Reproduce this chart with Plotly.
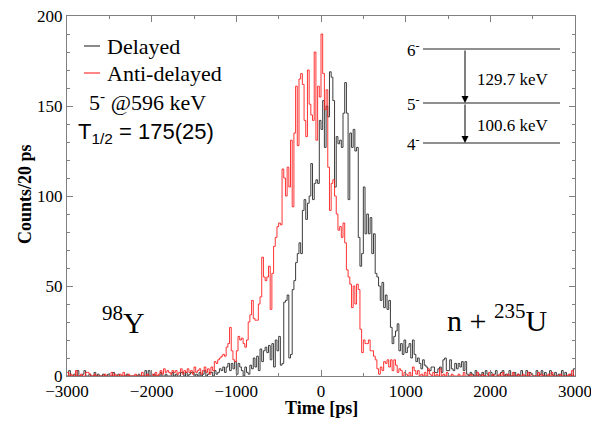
import numpy as np
import plotly.graph_objects as go

# time histogram, 20 ps bins from -3000 to 3000 ps
bin_start = -3000
bin_width = 20

delayed = [
    0, 3, 0, 0, 1, 0, 3, 0, 0, 1,
    3, 0, 0, 1, 0, 0, 2, 0, 1, 0,
    0, 1, 0, 0, 1, 0, 0, 2, 0, 0,
    1, 0, 0, 0, 0, 1, 0, 0, 0, 0,
    0, 0, 1, 0, 0, 0, 3, 0, 3, 0,
    0, 1, 0, 0, 0, 2, 0, 0, 1, 0,
    0, 0, 2, 0, 1, 0, 0, 2, 2, 0,
    2, 0, 1, 2, 2, 0, 1, 0, 2, 0,
    1, 3, 0, 1, 2, 2, 0, 3, 1, 2,
    4, 3, 5, 2, 5, 7, 3, 7, 4, 8,
    1, 7, 5, 3, 0, 5, 2, 1, 6, 4,
    10, 5, 11, 3, 15, 8, 14, 16, 13, 17,
    9, 18, 5, 20, 14, 22, 6, 7, 41, 42,
    45, 10, 12, 48, 53, 63, 68, 74, 68, 92,
    98, 87, 96, 100, 118, 98, 107, 109, 107, 142,
    137, 153, 127, 150, 144, 169, 166, 153, 105, 133,
    129, 131, 127, 146, 163, 146, 98, 135, 127, 137,
    125, 127, 77, 61, 68, 105, 79, 90, 79, 88,
    68, 79, 57, 55, 50, 42, 52, 38, 45, 37,
    42, 27, 18, 22, 25, 29, 14, 18, 12, 20,
    13, 16, 18, 10, 20, 12, 8, 10, 7, 4,
    9, 6, 5, 3, 3, 5, 5, 2, 2, 4,
    5, 2, 9, 10, 3, 3, 9, 4, 3, 7,
    4, 7, 5, 8, 3, 8, 1, 0, 2, 1,
    0, 3, 0, 1, 0, 2, 0, 3, 1, 0,
    2, 0, 1, 3, 0, 0, 2, 3, 0, 1,
    0, 3, 0, 0, 2, 0, 1, 0, 3, 0,
    0, 3, 0, 2, 1, 0, 0, 3, 0, 1,
    3, 0, 2, 0, 0, 3, 1, 0, 2, 0,
    1, 0, 3, 0, 2, 0, 0, 1, 0, 4,
]

anti_delayed = [
    2, 0, 1, 0, 0, 3, 0, 0, 1, 0,
    0, 2, 2, 1, 0, 0, 1, 0, 0, 0,
    0, 0, 1, 0, 0, 0, 2, 0, 1, 0,
    0, 1, 0, 2, 0, 0, 1, 0, 0, 0,
    1, 0, 0, 0, 2, 0, 0, 1, 0, 0,
    1, 0, 2, 0, 1, 3, 1, 4, 2, 3,
    2, 1, 3, 2, 3, 1, 2, 4, 1, 3,
    2, 4, 2, 3, 1, 5, 2, 3, 4, 1,
    3, 5, 2, 4, 1, 5, 3, 8, 7, 9,
    10, 11, 12, 11, 16, 18, 27, 14, 9, 8,
    14, 22, 20, 21, 18, 16, 20, 30, 34, 42,
    32, 31, 31, 40, 44, 66, 55, 53, 55, 61,
    37, 57, 72, 77, 83, 85, 84, 115, 110, 100,
    116, 105, 131, 94, 135, 161, 128, 165, 168, 162,
    142, 133, 170, 151, 145, 142, 180, 131, 161, 155,
    190, 168, 148, 159, 116, 92, 107, 109, 100, 90,
    81, 83, 77, 85, 74, 59, 55, 51, 38, 50,
    40, 51, 48, 26, 13, 20, 18, 18, 20, 14,
    14, 11, 9, 4, 1, 5, 3, 8, 7, 9,
    5, 9, 3, 9, 6, 2, 4, 3, 0, 2,
    1, 0, 2, 0, 5, 3, 1, 3, 0, 1,
    0, 2, 0, 4, 1, 0, 2, 0, 1, 0,
    4, 0, 1, 0, 2, 0, 0, 1, 0, 0,
    0, 1, 0, 0, 2, 0, 0, 0, 1, 0,
    0, 0, 2, 0, 0, 1, 0, 0, 0, 2,
    0, 1, 0, 0, 0, 1, 0, 2, 0, 0,
    1, 0, 0, 2, 0, 0, 1, 0, 0, 1,
    0, 0, 2, 0, 1, 0, 0, 0, 2, 0,
    1, 0, 0, 0, 1, 0, 2, 0, 0, 0,
    0, 1, 0, 0, 0, 0, 1, 0, 3, 0,
]

x_ticks = [-3000, -2000, -1000, 0, 1000, 2000, 3000]
y_ticks = [0, 50, 100, 150, 200]

# level scheme of 98Y
levels = ["6<sup>-</sup>", "5<sup>-</sup>", "4<sup>-</sup>"]
gammas = ["129.7 keV", "100.6 keV"]

edges = bin_start + bin_width * np.arange(len(delayed) + 1)

serif = "Liberation Serif"
sans = "Liberation Sans"
black_col = "#3c3c3c"
red_col = "rgba(255,30,30,0.9)"

fig = go.Figure()
fig.add_trace(go.Scatter(x=edges, y=delayed + [delayed[-1]], mode="lines",
                         line=dict(shape="hv", color=black_col, width=1),
                         name="Delayed"))
fig.add_trace(go.Scatter(x=edges, y=anti_delayed + [anti_delayed[-1]], mode="lines",
                         line=dict(shape="hv", color=red_col, width=1),
                         name="Anti-delayed"))

# paper coords helpers (plot box 508 x 360 px, page pixels of the reference)
def px(x):
    return (x - 67) / 508

def py(y):
    return (376 - y) / 360

def text(x, y, s, size, family=serif, anchor="left"):
    fig.add_annotation(xref="paper", yref="paper", x=px(x), y=py(y),
                       text=s, showarrow=False, xanchor=anchor, yanchor="middle",
                       font=dict(family=family, size=size, color="black"))

# hand-drawn legend, as in the original figure
for name, col, yy in [("Delayed", black_col, 46), ("Anti-delayed", red_col, 73)]:
    fig.add_shape(type="line", xref="paper", yref="paper",
                  x0=px(84), x1=px(100), y0=py(yy), y1=py(yy),
                  line=dict(color=col, width=1.2))
    text(105, yy, name, 22)

level_y = [49, 103, 143]
for lab, yy in zip(levels, level_y):
    fig.add_shape(type="line", xref="paper", yref="paper",
                  x0=px(423), x1=px(560), y0=py(yy), y1=py(yy),
                  line=dict(color="#6a6a6a", width=1.5))
    text(422, yy, lab, 17, anchor="right")

# transition arrows (data coords so the tail is in the same units)
def tx(x):
    return (x - 67) / 508 * 6000 - 3000

def cy(y):
    return (376 - y) / 1.8

for (y0, y1) in [(49, 103), (103, 143)]:
    fig.add_annotation(x=tx(465), y=cy(y1), ax=tx(465), ay=cy(y0),
                       xref="x", yref="y", axref="x", ayref="y",
                       text="", showarrow=True, arrowhead=2, arrowsize=1.4,
                       arrowwidth=1, arrowcolor="black")

for lab, yy in zip(gammas, [79, 125]):
    text(513, yy, lab, 17, anchor="center")

text(87, 101, "5<sup>-</sup> @596 keV", 22)
text(76, 133, "T<sub>1/2</sub> = 175(25)", 22, family=sans)
text(100, 320, "<sup>98</sup>Y", 30)
text(445, 318, "n + <sup>235</sup>U", 30)

# axis titles
fig.add_annotation(xref="paper", yref="paper", x=px(321), y=py(408),
                   text="<b>Time [ps]</b>", showarrow=False,
                   xanchor="center", yanchor="middle",
                   font=dict(family=serif, size=18, color="black"))
fig.add_annotation(xref="paper", yref="paper", x=px(25), y=py(194),
                   text="<b>Counts/20 ps</b>", showarrow=False, textangle=-90,
                   xanchor="center", yanchor="middle",
                   font=dict(family=serif, size=18, color="black"))

axis_common = dict(showgrid=False, zeroline=False, showline=True, mirror="ticks",
                   linecolor="#808080", linewidth=1, ticks="inside", ticklen=6,
                   tickcolor="#808080", automargin=False, ticklabeloverflow="allow",
                   tickfont=dict(family=serif, size=17, color="black"))

# the page body adds an 8 px margin, so the figure is 8 px smaller and
# its top/left margins are 8 px less than the reference's plot box offsets
fig.update_layout(
    width=591, height=416,
    margin=dict(l=59, r=24, t=8, b=48, autoexpand=False),
    paper_bgcolor="white", plot_bgcolor="white",
    showlegend=False,
    xaxis=dict(range=[-3000, 3000], tickvals=x_ticks,
               minor=dict(dtick=500, ticks="inside", ticklen=3, tickcolor="#808080"),
               **axis_common),
    yaxis=dict(range=[0, 200], tickvals=y_ticks,
               minor=dict(dtick=10, ticks="inside", ticklen=3, tickcolor="#808080"),
               **axis_common),
)

fig.write_html("out.html")
